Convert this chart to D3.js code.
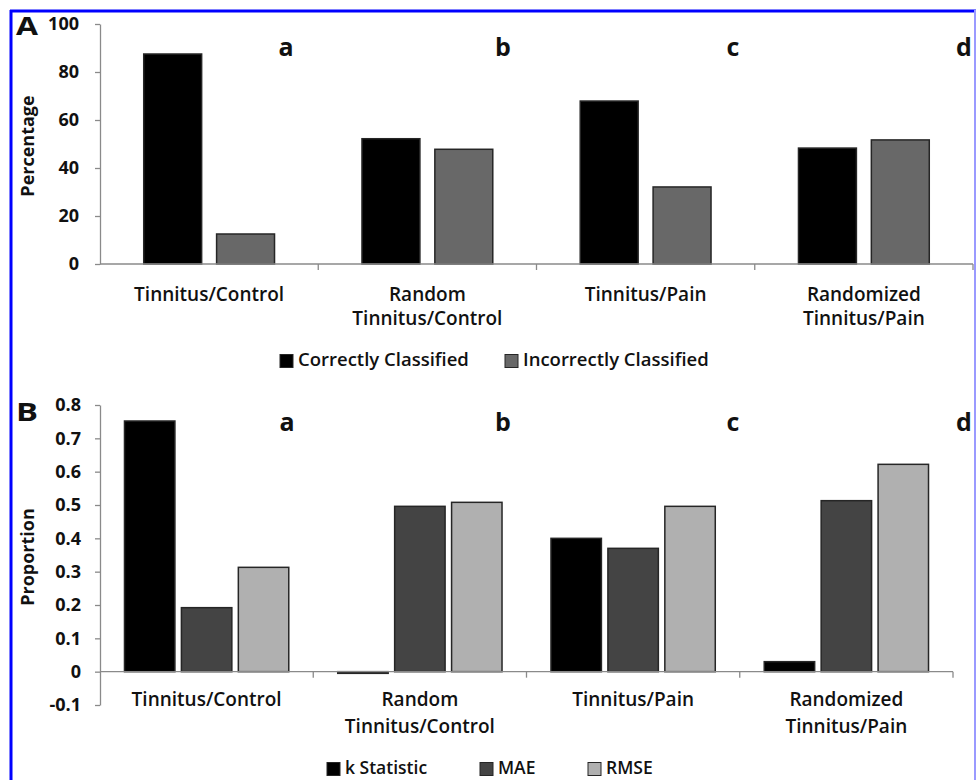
<!DOCTYPE html>
<html>
<head>
<meta charset="utf-8">
<script src="https://cdn.jsdelivr.net/npm/d3@7"></script>
<style>
  html, body { margin: 0; padding: 0; background: #fff; }
  svg { display: block; }
  text { font-family: "Open Sans", "Lato", sans-serif; fill: #111; }
</style>
</head>
<body>
<svg id="chart" width="977" height="780"></svg>
<script>
// ---------- DATA ----------
const categories = [
  ["Tinnitus/Control"],
  ["Random", "Tinnitus/Control"],
  ["Tinnitus/Pain"],
  ["Randomized", "Tinnitus/Pain"]
];
const categoryKeys = ["TC", "RTC", "TP", "RTP"];
const panelLetters = ["a", "b", "c", "d"];

// Panel A
const seriesA = ["Correctly Classified", "Incorrectly Classified"];
const correctlyClassified   = [87.5, 52.2, 67.9, 48.3];
const incorrectlyClassified = [12.5, 47.8, 32.1, 51.7];
const yTicksA = [0, 20, 40, 60, 80, 100];
const yTickLabelsA = ["0", "20", "40", "60", "80", "100"];

// Panel B
const seriesB = ["k Statistic", "MAE", "RMSE"];
const kStatistic = [0.752, -0.005, 0.400, 0.030];
const mae        = [0.192, 0.496, 0.370, 0.513];
const rmse       = [0.313, 0.508, 0.496, 0.622];
const yTicksB = [-0.1, 0, 0.1, 0.2, 0.3, 0.4, 0.5, 0.6, 0.7, 0.8];
const yTickLabelsB = ["-0.1", "0", "0.1", "0.2", "0.3", "0.4", "0.5", "0.6", "0.7", "0.8"];

// ---------- STYLE ----------
const colorsA = ["#000000", "#686868"];
const colorsB = ["#000000", "#444444", "#b0b0b0"];
const axisColor = "#8a8a8a";
const barStroke = "#262626";

const svg = d3.select("#chart");

// frame
svg.append("line").attr("x1", 10).attr("y1", 11).attr("x2", 976).attr("y2", 11)
  .attr("stroke", "#0000ff").attr("stroke-width", 3);
svg.append("line").attr("x1", 11).attr("y1", 10).attr("x2", 11).attr("y2", 780)
  .attr("stroke", "#0000ff").attr("stroke-width", 3);
svg.append("line").attr("x1", 975).attr("y1", 10).attr("x2", 975).attr("y2", 780)
  .attr("stroke", "#9a9aff").attr("stroke-width", 2);

function drawPanel(cfg) {
  const g = svg.append("g");
  const x = d3.scaleBand().domain(categoryKeys).range([100, cfg.xRight]).padding(0);
  const x1 = d3.scaleBand().domain(cfg.series).range([0, x.bandwidth()])
    .paddingInner(cfg.padInner).paddingOuter(cfg.padOuter);
  const y = d3.scaleLinear().domain(cfg.yDomain).range(cfg.yRange);

  // y axis
  const yAxis = d3.axisLeft(y).tickValues(cfg.yTicks)
    .tickFormat((d, i) => cfg.yTickLabels[i]).tickSize(5).tickPadding(cfg.tickPad).tickSizeOuter(0);
  const ya = g.append("g").attr("transform", "translate(100,0)").call(yAxis);
  ya.select(".domain").attr("stroke", axisColor).attr("stroke-width", 1.3);
  ya.selectAll(".tick line").attr("stroke", axisColor).attr("stroke-width", 1.3);
  ya.selectAll(".tick text").attr("font-family", "Open Sans").attr("font-weight", "bold")
    .attr("font-size", 18).attr("fill", "#1a1a1a");

  // bars
  const rows = categoryKeys.map((k, i) => ({ key: k, vals: cfg.values.map(v => v[i]) }));
  const grp = g.selectAll(".grp").data(rows).join("g")
    .attr("transform", d => `translate(${x(d.key)},0)`);
  grp.selectAll("rect").data(d => d.vals.map((v, j) => ({ s: cfg.series[j], v, j })))
    .join("rect")
    .attr("x", d => x1(d.s))
    .attr("width", x1.bandwidth())
    .attr("y", d => y(Math.max(0, d.v)))
    .attr("height", d => Math.abs(y(d.v) - y(0)))
    .attr("fill", d => cfg.colors[d.j])
    .attr("stroke", barStroke).attr("stroke-width", 1.5);

  // x axis line at zero with boundary ticks
  const y0 = y(0);
  g.append("line").attr("x1", 100).attr("x2", cfg.xRight).attr("y1", y0).attr("y2", y0)
    .attr("stroke", axisColor).attr("stroke-width", 1.3);
  const bounds = categoryKeys.map(k => x(k) + x.bandwidth());
  g.selectAll(".xtick").data(bounds).join("line")
    .attr("x1", d => d).attr("x2", d => d).attr("y1", y0).attr("y2", y0 + 6)
    .attr("stroke", axisColor).attr("stroke-width", 1.3);

  // category labels
  categories.forEach((lines, i) => {
    const cx = x(categoryKeys[i]) + x.bandwidth() / 2;
    lines.forEach((ln, li) => {
      g.append("text").attr("x", cx).attr("y", cfg.labelY + li * cfg.lineGap)
        .attr("text-anchor", "middle").attr("dominant-baseline", "middle")
        .attr("font-size", 19).attr("font-weight", 600).attr("fill", "#151515").text(ln);
    });
  });

  // panel sub-letters
  cfg.letterX.forEach((lx, i) => {
    g.append("text").attr("x", lx).attr("y", cfg.letterY).attr("text-anchor", "middle")
      .attr("font-family", "Liberation Sans, Arial, sans-serif").attr("font-weight", "bold")
      .attr("font-size", 25).attr("fill", "#111").text(panelLetters[i]);
  });

  // big panel letter
  g.append("text").attr("x", 16).attr("y", cfg.bigY)
    .attr("font-family", "Liberation Sans, Arial, sans-serif").attr("font-weight", "bold")
    .attr("font-size", 25).attr("textLength", 22).attr("lengthAdjust", "spacingAndGlyphs")
    .attr("fill", "#111").text(cfg.bigLetter);

  // y title
  g.append("text").attr("transform", `translate(34,${cfg.titleY}) rotate(-90)`)
    .attr("text-anchor", "middle").attr("font-weight", "bold").attr("font-size", 18)
    .attr("fill", "#111").text(cfg.yTitle);

  // legend
  cfg.series.forEach((s, j) => {
    const lx = cfg.legendX[j];
    g.append("rect").attr("x", lx).attr("y", cfg.legendY - 6.5).attr("width", 13).attr("height", 13)
      .attr("fill", cfg.colors[j]).attr("stroke", barStroke).attr("stroke-width", 1);
    g.append("text").attr("x", lx + 18).attr("y", cfg.legendY).attr("dominant-baseline", "middle")
      .attr("font-size", cfg.legendFont).attr("font-weight", 600).attr("fill", "#111").text(s);
  });
}

drawPanel({
  series: seriesA,
  values: [correctlyClassified, incorrectlyClassified],
  colors: colorsA,
  xRight: 973,
  padInner: 0.205, padOuter: 0.6,
  yDomain: [0, 100], yRange: [264, 24],
  yTicks: yTicksA, yTickLabels: yTickLabelsA, tickPad: 16,
  labelY: 296, lineGap: 24,
  letterX: [286, 503, 733, 964], letterY: 56,
  bigLetter: "A", bigY: 35,
  yTitle: "Percentage", titleY: 146,
  legendX: [280, 505], legendY: 361, legendFont: 18.5
});

drawPanel({
  series: seriesB,
  values: [kStatistic, mae, rmse],
  colors: colorsB,
  xRight: 953,
  padInner: 0.114, padOuter: 0.43,
  yDomain: [-0.1, 0.8], yRange: [705, 405],
  yTicks: yTicksB, yTickLabels: yTickLabelsB, tickPad: 14,
  labelY: 701, lineGap: 27,
  letterX: [287, 503, 733, 964], letterY: 431,
  bigLetter: "B", bigY: 421,
  yTitle: "Proportion", titleY: 557,
  legendX: [327, 480, 588], legendY: 769, legendFont: 17.5
});
</script>
</body>
</html>
